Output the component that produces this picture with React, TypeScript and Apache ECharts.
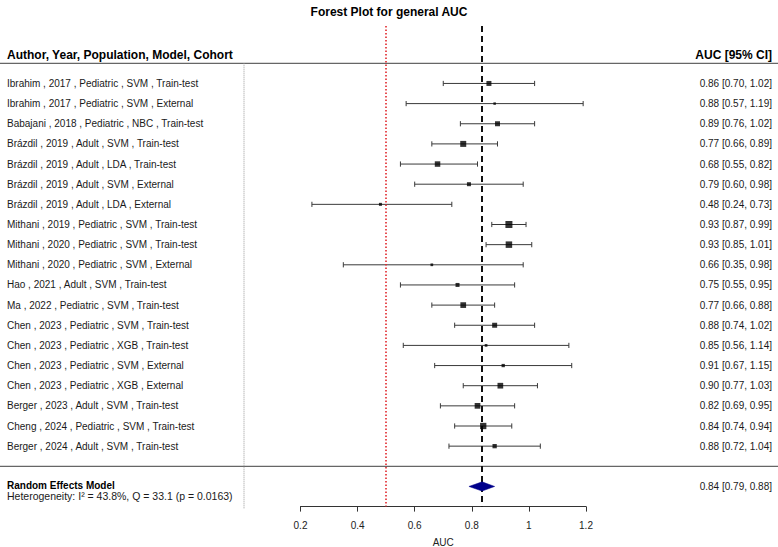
import React, { useEffect, useRef } from 'react';
import * as echarts from 'echarts';

const authors = ['Ibrahim', 'Ibrahim', 'Babajani', 'Brázdil', 'Brázdil', 'Brázdil', 'Brázdil', 'Mithani', 'Mithani', 'Mithani', 'Hao', 'Ma', 'Chen', 'Chen', 'Chen', 'Chen', 'Berger', 'Cheng', 'Berger'];
const years = [2017, 2017, 2018, 2019, 2019, 2019, 2019, 2019, 2020, 2020, 2021, 2022, 2023, 2023, 2023, 2023, 2023, 2024, 2024];
const populations = ['Pediatric', 'Pediatric', 'Pediatric', 'Adult', 'Adult', 'Adult', 'Adult', 'Pediatric', 'Pediatric', 'Pediatric', 'Adult', 'Pediatric', 'Pediatric', 'Pediatric', 'Pediatric', 'Pediatric', 'Adult', 'Pediatric', 'Adult'];
const models = ['SVM', 'SVM', 'NBC', 'SVM', 'LDA', 'SVM', 'LDA', 'SVM', 'SVM', 'SVM', 'SVM', 'SVM', 'SVM', 'XGB', 'SVM', 'XGB', 'SVM', 'SVM', 'SVM'];
const cohorts = ['Train-test', 'External', 'Train-test', 'Train-test', 'Train-test', 'External', 'External', 'Train-test', 'Train-test', 'External', 'Train-test', 'Train-test', 'Train-test', 'Train-test', 'External', 'External', 'Train-test', 'Train-test', 'Train-test'];
const estimates = [0.86, 0.88, 0.89, 0.77, 0.68, 0.79, 0.48, 0.93, 0.93, 0.66, 0.75, 0.77, 0.88, 0.85, 0.91, 0.90, 0.82, 0.84, 0.88];
const lowers = [0.70, 0.57, 0.76, 0.66, 0.55, 0.60, 0.24, 0.87, 0.85, 0.35, 0.55, 0.66, 0.74, 0.56, 0.67, 0.77, 0.69, 0.74, 0.72];
const uppers = [1.02, 1.19, 1.02, 0.89, 0.82, 0.98, 0.73, 0.99, 1.01, 0.98, 0.95, 0.88, 1.02, 1.14, 1.15, 1.03, 0.95, 0.94, 1.04];
const markerSizes = [5, 2.5, 5, 6, 5.5, 4, 3, 7, 6.5, 2.7, 4, 5.7, 5, 2.7, 3.3, 5.7, 5.7, 6.3, 4.3];

const pooledEstimate = 0.836;
const pooledLower = 0.79;
const pooledUpper = 0.88;
const heterogeneityText = 'Heterogeneity: I² = 43.8%, Q = 33.1 (p = 0.0163)';
const nullValue = 0.5;
const xTicks = { min: 0.2, max: 1.2, step: 0.2 };

const FONT = '"Liberation Sans", Arial, Helvetica, sans-serif';
const pooledRow = estimates.length + 1; // 20

const studyLabels = authors.map((a, i) => `${a} , ${years[i]} , ${populations[i]} , ${models[i]} , ${cohorts[i]}`);
const ciLabels = estimates.map((e, i) => `${e.toFixed(2)} [${lowers[i].toFixed(2)}, ${uppers[i].toFixed(2)}]`);
const pooledLabel = `${pooledEstimate.toFixed(2)} [${pooledLower.toFixed(2)}, ${pooledUpper.toFixed(2)}]`;

export default function App() {
  const ref = useRef<HTMLDivElement>(null);
  useEffect(() => {
    if (!ref.current) return;
    const chart = echarts.init(ref.current, null, { renderer: 'svg' });
    const yCommon = {
      type: 'value' as const,
      inverse: true,
      min: -3,
      max: 21,
      interval: 1,
      axisLine: { show: false },
      axisTick: { show: false },
      splitLine: { show: false },
    };
    const option: any = {
      animation: false,
      backgroundColor: '#ffffff',
      title: {
        text: 'Forest Plot for general AUC',
        left: 'center',
        top: 1,
        textStyle: { fontFamily: FONT, fontSize: 12, fontWeight: 'bold', color: '#000' },
      },
      grid: { left: 300.5, right: 192, top: 23, bottom: 40.4, containLabel: false, outerBoundsMode: 'none' },
      xAxis: {
        type: 'value',
        min: xTicks.min,
        max: xTicks.max,
        interval: xTicks.step,
        position: 'bottom',
        name: 'AUC',
        nameLocation: 'middle',
        nameGap: 31,
        nameTextStyle: { fontFamily: FONT, fontSize: 10, color: '#222' },
        axisLine: { show: true, onZero: false, lineStyle: { color: '#333', width: 1 } },
        axisTick: { show: true, length: 5, lineStyle: { color: '#333' } },
        axisLabel: { fontFamily: FONT, fontSize: 10, color: '#222', margin: 14 },
        splitLine: { show: false },
      },
      yAxis: [
        {
          ...yCommon,
          position: 'left',
          axisLabel: {
            show: true,
            align: 'left',
            margin: 293.5,
            fontFamily: FONT,
            fontSize: 10,
            color: '#1a1a1a',
            formatter: (v: number) => {
              const i = Math.round(v);
              return i >= 0 && i < studyLabels.length ? studyLabels[i] : '';
            },
          },
        },
        {
          ...yCommon,
          position: 'right',
          axisLabel: {
            show: true,
            align: 'right',
            margin: 186,
            fontFamily: FONT,
            fontSize: 10,
            color: '#1a1a1a',
            formatter: (v: number) => {
              const i = Math.round(v);
              if (i >= 0 && i < ciLabels.length) return ciLabels[i];
              if (i === pooledRow) return pooledLabel;
              return '';
            },
          },
        },
      ],
      series: [
        {
          type: 'custom',
          name: 'ci',
          silent: true,
          data: estimates.map((_, i) => [lowers[i], uppers[i], i]),
          encode: { x: [0, 1], y: 2 },
          renderItem: (params: any, api: any) => {
            const p1 = api.coord([api.value(0), api.value(2)]);
            const p2 = api.coord([api.value(1), api.value(2)]);
            const style = { stroke: '#3a3a3a', lineWidth: 1 };
            const cap = 2.6;
            return {
              type: 'group',
              children: [
                { type: 'line', shape: { x1: p1[0], y1: p1[1], x2: p2[0], y2: p2[1] }, style },
                { type: 'line', shape: { x1: p1[0], y1: p1[1] - cap, x2: p1[0], y2: p1[1] + cap }, style },
                { type: 'line', shape: { x1: p2[0], y1: p2[1] - cap, x2: p2[0], y2: p2[1] + cap }, style },
              ],
            };
          },
          z: 2,
        },
        {
          type: 'scatter',
          name: 'estimate',
          silent: true,
          symbol: 'rect',
          data: estimates.map((e, i) => [e, i, markerSizes[i]]),
          symbolSize: (v: number[]) => v[2],
          itemStyle: { color: '#000' },
          z: 5,
          markLine: {
            silent: true,
            symbol: 'none',
            label: { show: false },
            data: [
              [
                { coord: [nullValue, -2.85], lineStyle: { color: '#e0262b', type: [1.5, 2], width: 1.6 } },
                { coord: [nullValue, 21] },
              ],
              [
                { coord: [pooledEstimate, -2.85], lineStyle: { color: '#111', type: [6, 4], width: 2 } },
                { coord: [pooledEstimate, 21] },
              ],
            ],
          },
        },
        {
          type: 'custom',
          name: 'pooled',
          silent: true,
          data: [[pooledLower, pooledEstimate, pooledUpper, pooledRow]],
          encode: { x: [0, 1, 2], y: 3 },
          renderItem: (params: any, api: any) => {
            const l = api.coord([api.value(0), api.value(3)]);
            const c = api.coord([api.value(1), api.value(3)]);
            const r = api.coord([api.value(2), api.value(3)]);
            const h = 4.6;
            return {
              type: 'polygon',
              shape: { points: [[l[0], l[1]], [c[0], c[1] - h], [r[0], r[1]], [c[0], c[1] + h]] },
              style: { fill: '#00008b', stroke: '#00008b', lineWidth: 0.5 },
            };
          },
          z: 6,
        },
      ],
    };
    chart.setOption(option);

    const yHeader = chart.convertToPixel({ yAxisIndex: 0 }, -1) as number;
    const ySep = chart.convertToPixel({ yAxisIndex: 0 }, estimates.length) as number;
    const yPooled = chart.convertToPixel({ yAxisIndex: 0 }, pooledRow) as number;
    const yAxisLine = chart.convertToPixel({ yAxisIndex: 0 }, 21) as number;
    const W = 778;

    chart.setOption({
      graphic: [
        { type: 'line', shape: { x1: 0, y1: yHeader, x2: W, y2: yHeader }, style: { stroke: '#666', lineWidth: 1.3 }, silent: true },
        { type: 'line', shape: { x1: 0, y1: ySep, x2: W, y2: ySep }, style: { stroke: '#666', lineWidth: 1.3 }, silent: true },
        { type: 'line', shape: { x1: 244, y1: yHeader, x2: 244, y2: yAxisLine + 2 }, style: { stroke: '#9a9a9a', lineWidth: 1, lineDash: [1, 1] }, silent: true },
        {
          type: 'text', x: 7, y: yHeader - 8, silent: true,
          style: { text: 'Author, Year, Population, Model, Cohort', fontSize: 12, fontWeight: 'bold', fontFamily: FONT, fill: '#000', verticalAlign: 'middle', align: 'left' },
        },
        {
          type: 'text', x: 772, y: yHeader - 8, silent: true,
          style: { text: 'AUC [95% CI]', fontSize: 12, fontWeight: 'bold', fontFamily: FONT, fill: '#000', verticalAlign: 'middle', align: 'right' },
        },
        {
          type: 'text', x: 7, y: yPooled - 0.5, silent: true,
          style: { text: 'Random Effects Model', fontSize: 10, lineHeight: 10, fontWeight: 'bold', fontFamily: FONT, fill: '#000', verticalAlign: 'middle', align: 'left' },
        },
        {
          type: 'text', x: 7, y: yPooled + 10, silent: true,
          style: { text: heterogeneityText, fontSize: 10.5, lineHeight: 10, fontFamily: FONT, fill: '#1a1a1a', verticalAlign: 'middle', align: 'left' },
        },
      ],
    });

    return () => chart.dispose();
  }, []);
  return <div ref={ref} style={{ position: 'fixed', left: 0, top: 0, width: 778, height: 547, background: '#fff' }} />;
}
